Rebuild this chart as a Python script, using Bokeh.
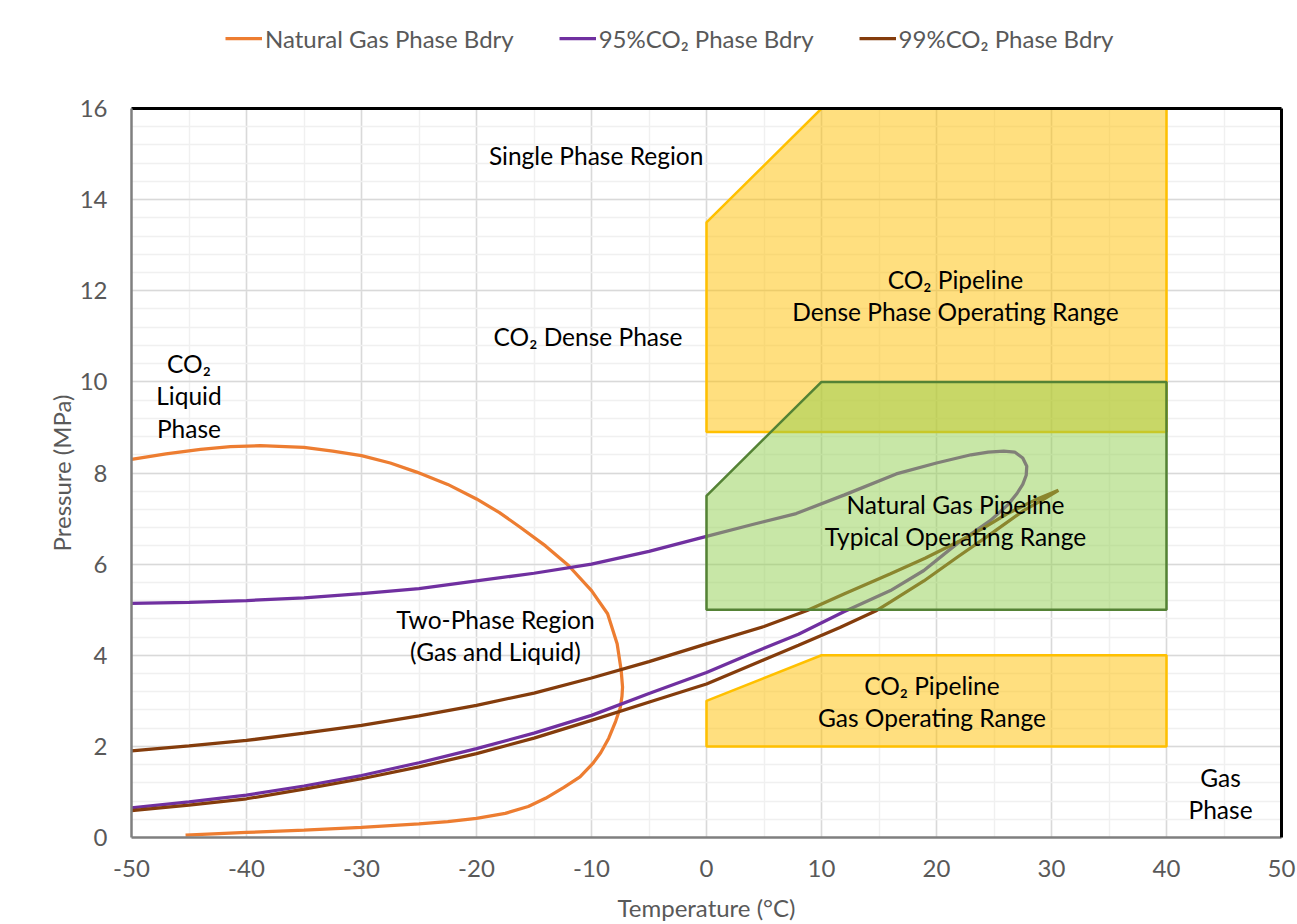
from bokeh.plotting import figure
from bokeh.layouts import column
from bokeh.models import (Legend, LegendItem, LinearAxis, Range1d, SingleIntervalTicker,
                          FixedTicker, PrintfTickFormatter)
from bokeh.core.properties import value
from bokeh.embed import file_html
from bokeh.resources import INLINE

# ---- phase boundaries: temperature (°C) and pressure (MPa) ----
ng_temp = [-50, -47, -44, -41.4, -38.8, -35, -32.5, -30, -27.5, -25.2, -22.5, -20, -18, -16.2,
           -14, -12, -10, -8.6, -7.77, -7.42, -7.3, -7.35, -7.5, -7.9, -8.5, -9.2, -9.9, -11.0,
           -12.4, -14.0, -15.5, -17.5, -20.0, -22.5, -25.0, -30.0, -35.0, -40.0, -45.3]
ng_pres = [8.30, 8.42, 8.52, 8.58, 8.60, 8.56, 8.48, 8.38, 8.22, 8.02, 7.75, 7.43, 7.13, 6.81,
           6.40, 5.97, 5.42, 4.91, 4.25, 3.67, 3.30, 3.10, 2.85, 2.55, 2.18, 1.86, 1.62, 1.33,
           1.10, 0.86, 0.68, 0.53, 0.42, 0.35, 0.30, 0.22, 0.16, 0.11, 0.05]

co2_95_temp = [-50, -45, -40, -35, -30, -25, -20, -15, -10, -5, 0, 4, 7.8, 12, 16.5, 20, 23,
               24.5, 25.85, 26.8, 27.5, 27.85, 27.8, 27.5, 27.0, 26.2, 24.7, 21.8, 18.9, 16.0,
               11.9, 8, 4, 0, -5, -10, -15, -20, -25, -30, -35, -40, -45, -50]
co2_95_pres = [5.14, 5.16, 5.20, 5.26, 5.35, 5.46, 5.63, 5.80, 6.00, 6.28, 6.61, 6.87, 7.11, 7.52,
               7.98, 8.22, 8.40, 8.46, 8.48, 8.46, 8.33, 8.15, 7.95, 7.75, 7.55, 7.30, 6.96, 6.45,
               5.86, 5.42, 4.95, 4.46, 4.05, 3.62, 3.16, 2.68, 2.29, 1.95, 1.64, 1.36, 1.13, 0.93,
               0.78, 0.65]

co2_99_temp = [-50, -45, -40, -35, -30, -25, -20, -15, -10, -5, 0, 5, 8.75, 12, 16, 19, 21.8,
               24, 26.1, 28.5, 30.6, 29.3, 27.6, 24.7, 21.8, 18.9, 16, 14.7, 11.6, 8, 5, 0, -4,
               -10, -15, -20, -25, -30, -35, -40, -45, -50]
co2_99_pres = [1.90, 2.01, 2.13, 2.29, 2.46, 2.67, 2.90, 3.17, 3.50, 3.86, 4.25, 4.63, 4.98, 5.35,
               5.79, 6.13, 6.48, 6.78, 7.10, 7.40, 7.62, 7.42, 7.18, 6.66, 6.15, 5.63, 5.17, 4.97,
               4.61, 4.22, 3.90, 3.37, 3.05, 2.57, 2.18, 1.84, 1.55, 1.29, 1.06, 0.85, 0.71, 0.59]

# ---- pipeline operating envelopes ----
dense_range_temp = [0, 0, 10, 40, 40]
dense_range_pres = [8.9, 13.5, 16, 16, 8.9]
ng_range_temp = [0, 0, 10, 40, 40]
ng_range_pres = [5, 7.5, 10, 10, 5]
gas_range_temp = [0, 0, 10, 40, 40]
gas_range_pres = [2, 3, 4, 4, 2]

series_names = ["Natural Gas Phase Bdry", "95%CO\u2082 Phase Bdry", "99%CO\u2082 Phase Bdry"]
series_colors = ["#ED7D31", "#7030A0", "#843C0C"]

region_labels = [
    "Single Phase Region",
    "CO\u2082 Dense Phase",
    "CO\u2082\nLiquid\nPhase",
    "CO\u2082 Pipeline\nDense Phase Operating Range",
    "Natural Gas Pipeline\nTypical Operating Range",
    "Two-Phase Region\n(Gas and Liquid)",
    "CO\u2082 Pipeline\nGas Operating Range",
    "Gas\nPhase",
]
label_x = [-9.6, -10.3, -45.0, 21.65, 21.65, -18.35, 19.6, 44.7]
label_y = [14.97, 11.0, 9.70, 11.9, 6.96, 4.43, 2.98, 0.97]

FONT = "Lato"
AXIS_GREY = "#595959"
LINE_W = 3.25

# ---------------- main chart ----------------
p = figure(width=1297, height=844, x_range=Range1d(-50, 50), y_range=Range1d(0, 16),
           output_backend="svg", toolbar_location=None,
           min_border_left=131, min_border_right=16, min_border_top=28, min_border_bottom=87)
p.outline_line_color = None
p.background_fill_color = "white"
p.border_fill_color = "white"

xticker = SingleIntervalTicker(interval=10, num_minor_ticks=2)
yticker = SingleIntervalTicker(interval=2, num_minor_ticks=5)
p.xaxis.ticker = xticker
p.yaxis.ticker = yticker
p.xgrid.ticker = xticker
p.ygrid.ticker = yticker
p.xaxis.formatter = PrintfTickFormatter(format="%d")
p.yaxis.formatter = PrintfTickFormatter(format="%d")
for g in (p.xgrid, p.ygrid):
    g.grid_line_color = "#D9D9D9"
    g.grid_line_width = 1.5
    g.minor_grid_line_color = "#F0F0F0"
    g.minor_grid_line_width = 1.5

for ax in (p.xaxis, p.yaxis):
    ax.axis_line_color = "#7F7F7F"
    ax.axis_line_width = 2.5
    ax.major_tick_line_color = None
    ax.minor_tick_line_color = None
    ax.major_tick_out = 0
    ax.minor_tick_out = 0
    ax.major_label_text_font = FONT
    ax.major_label_text_font_size = "24px"
    ax.major_label_text_color = AXIS_GREY
    ax.axis_label_text_font = FONT
    ax.axis_label_text_font_size = "24px"
    ax.axis_label_text_color = AXIS_GREY
    ax.axis_label_text_font_style = "normal"

p.xaxis.axis_label = "Temperature (\u00b0C)"
p.yaxis.axis_label = "Pressure (MPa)"
p.xaxis.major_label_standoff = 22
p.xaxis.axis_label_standoff = 13
p.yaxis.major_label_standoff = 24
p.yaxis.axis_label_standoff = 1

# black frame lines on the top and right sides (no ticks, no labels)
for side in ("above", "right"):
    edge = LinearAxis(ticker=FixedTicker(ticks=[]), axis_line_color="black",
                      axis_line_width=3, major_tick_line_color=None,
                      minor_tick_line_color=None, major_tick_out=0, major_tick_in=0,
                      major_label_standoff=0, major_label_text_font_size="0px")
    p.add_layout(edge, side)

# phase boundary curves
p.line(ng_temp, ng_pres, line_color=series_colors[0], line_width=LINE_W)
p.line(co2_95_temp, co2_95_pres, line_color=series_colors[1], line_width=LINE_W)
p.line(co2_99_temp, co2_99_pres, line_color=series_colors[2], line_width=LINE_W)

# operating envelopes (translucent, drawn over the curves)
p.patch(dense_range_temp, dense_range_pres, fill_color="#FFC000", fill_alpha=0.5,
        line_color="#FFC000", line_width=2.5)
p.patch(gas_range_temp, gas_range_pres, fill_color="#FFC000", fill_alpha=0.5,
        line_color="#FFC000", line_width=2.5)
p.patch(ng_range_temp, ng_range_pres, fill_color="#92D050", fill_alpha=0.5,
        line_color="#548235", line_width=2.5)

p.text(x=label_x, y=label_y, text=region_labels, text_font=value(FONT),
       text_font_size="24.5px", text_color="black", text_align="center",
       text_baseline="middle", text_line_height=1.12)

# ---------------- legend strip above the chart ----------------
strip = figure(width=1297, height=80, x_range=Range1d(0, 1), y_range=Range1d(0, 1),
               output_backend="svg", toolbar_location=None,
               x_axis_location=None, y_axis_location=None, min_border=0)
strip.grid.visible = False
strip.outline_line_color = None
strip.border_fill_color = "white"
strip.background_fill_color = "white"
# swatch renderers sit outside the strip's visible range; only their legend glyphs show
swatches = [strip.line([5, 6], [5, 6], line_color=c, line_width=LINE_W) for c in series_colors]

legend = Legend(items=[LegendItem(label=n, renderers=[r]) for n, r in zip(series_names, swatches)],
                orientation="horizontal", location=(94, 27),
                border_line_color=None, background_fill_alpha=0,
                padding=0, margin=0, spacing=45, glyph_width=37, glyph_height=30,
                label_height=30, label_standoff=3, label_text_font=FONT,
                label_text_font_size="24px", label_text_color=AXIS_GREY)
strip.add_layout(legend, "center")

open("out.html", "w").write(file_html(column(strip, p, spacing=0), INLINE))
